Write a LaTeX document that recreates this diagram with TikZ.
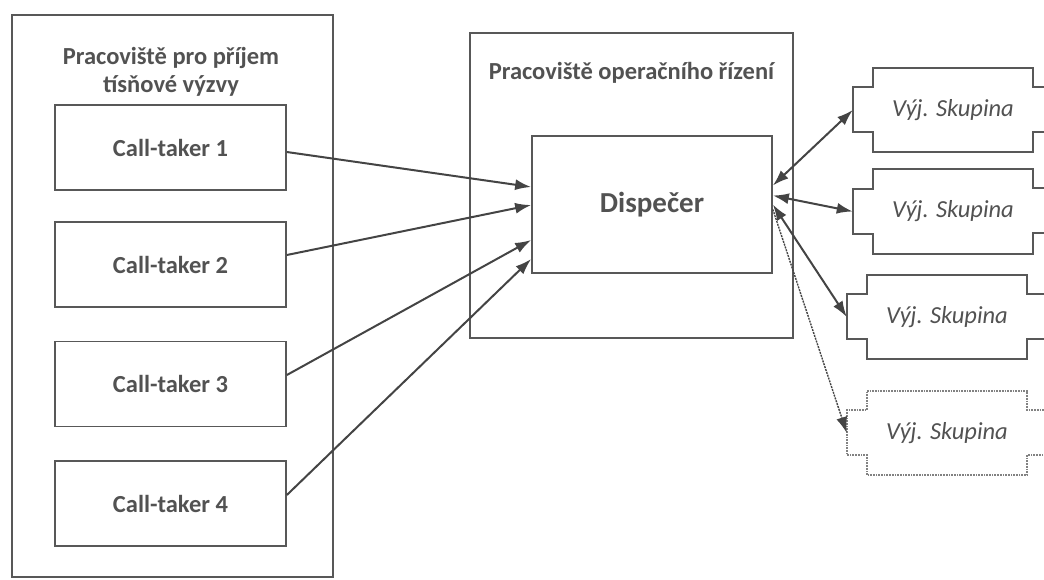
\documentclass[tikz,border=0pt]{standalone}
\usepackage{fontspec}
\setmainfont{Carlito}
\usetikzlibrary{arrows,arrows.meta}
\usetikzlibrary{calc}
\definecolor{linka}{RGB}{88,88,88}
\definecolor{sipka}{RGB}{68,68,68}
\definecolor{pismo}{RGB}{82,82,82}

\tikzset{
    ramec/.style={draw=linka, line width=1.7pt, minimum width=#1},
    titulek/.style={text=pismo, font=\fontsize{24.5}{28}\selectfont\bfseries, align=center},
    skupina/.style={text=pismo, font=\fontsize{24.5}{28}\selectfont\itshape, minimum width=200pt, minimum height=84pt, inner sep=0pt},
    hovor/.style={draw=sipka, line width=2pt, -{Latex[length=16pt,width=11pt]}},
    spojeni/.style={draw=sipka, line width=2pt, {Latex[length=16pt,width=11pt]}-{Latex[length=16pt,width=11pt]}},
}

% obrys skupiny se zoubky po stranach
\newcommand{\obrys}[2]{%
    \draw[linka, line width=1.7pt, #2] ($(#1.north west)+(20,0)$) -- ($(#1.north east)+(-20,0)$)
        -- ++(0,19) -- ++(20,0) -- ++(0,45) -- ++(-20,0) -- ($(#1.south east)+(-20,0)$)
        -- ($(#1.south west)+(20,0)$) -- ++(0,-20) -- ++(-20,0) -- ++(0,-45) -- ++(20,0) -- cycle;
}

\begin{document}
\begin{tikzpicture}[x=1pt, y=-1pt]

    \useasboundingbox (0,0) rectangle (1044,579);
    \clip (0,0) rectangle (1044,579);

    % pracoviste pro prijem vyzvy
    \node[ramec=321pt, minimum height=562pt] (prijem) at (172.5,296) {};
    \node[titulek] (prijemtxt) at (171,72) {Pracoviště pro příjem\\tísňové výzvy};
    \node[ramec=231pt, minimum height=85pt, titulek] (ct1) at (170.5,147.5) {Call-taker 1};
    \node[ramec=231pt, minimum height=85pt, titulek] (ct2) at (170.5,264.5) {Call-taker 2};
    \node[ramec=231pt, minimum height=85pt, titulek] (ct3) at (170.5,384) {Call-taker 3};
    \node[ramec=231pt, minimum height=85pt, titulek] (ct4) at (170.5,503.5) {Call-taker 4};

    % operacni rizeni
    \node[ramec=323pt, minimum height=305pt] (rizeni) at (631.5,185.5) {};
    \node[titulek] (rizenitxt) at (631.5,73) {Pracoviště operačního řízení};
    \node[ramec=240pt, minimum height=137pt, titulek, font=\fontsize{29}{32}\selectfont\bfseries] (disp) at (652,204.5) {Dispečer};

    % vyjezdove skupiny
    \node[skupina] (sk1) at (953,110) {Výj. Skupina};
    \node[skupina] (sk2) at (953,211.5) {Výj. Skupina};
    \node[skupina] (sk3) at (947,317) {Výj. Skupina};
    \node[skupina] (sk4) at (947,433) {Výj. Skupina};
    \obrys{sk1}{}
    \obrys{sk2}{}
    \obrys{sk3}{}
    \obrys{sk4}{densely dotted, linka!75}

    \draw[hovor] ([yshift=-4.5pt]ct1.east) -- ([yshift=17.5pt]disp.west);
    \draw[hovor] ([yshift=9.5pt]ct2.east) -- ([yshift=-0.5pt]disp.west);
    \draw[hovor] ([yshift=9pt]ct3.east) -- ([yshift=-35.5pt]disp.west);
    \draw[hovor] ([yshift=8.5pt]ct4.east) -- ([yshift=-54.5pt]disp.west);

    \draw[spojeni] ([yshift=19pt]disp.east) -- (sk1.west);
    \draw[spojeni] ([yshift=9pt]disp.east) -- (sk2.west);
    \draw[spojeni] ([yshift=0pt]disp.east) -- (sk3.west);
    \draw[hovor, densely dotted, line width=1.4pt] ([yshift=-5pt]disp.east) -- (sk4.west);

\end{tikzpicture}
\end{document}
